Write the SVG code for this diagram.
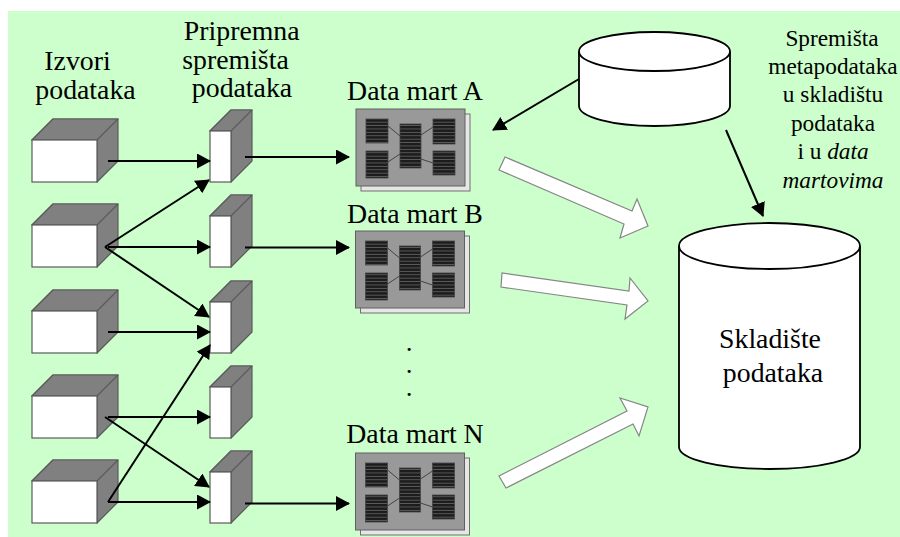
<svg xmlns="http://www.w3.org/2000/svg" width="900" height="537" viewBox="0 0 900 537">
<style>
text{font-family:"Liberation Serif","Times New Roman",serif;fill:#000;text-anchor:middle}
.t{font-size:27.800px}
.s{font-size:23.300px}
.d{font-size:19px;font-weight:bold}
.face{fill:#fff;stroke:#5a5a5a;stroke-width:1.2}
.dark{fill:#808080;stroke:#5a5a5a;stroke-width:1.2;stroke-linejoin:round}
.conn{fill:none;stroke:#000;stroke-width:2}
.big{fill:#fff;stroke:#858585;stroke-width:1.2}
.cyl{fill:#fff;stroke:#000;stroke-width:1.800}
.blk{fill:url(#st);stroke:#444;stroke-width:.8}
.lnk{stroke:#444;stroke-width:1;fill:none}
</style>
<defs>
<pattern id="st" width="4" height="3.4" patternUnits="userSpaceOnUse">
<rect width="4" height="3.4" fill="#5e5e5e"/>
<rect width="4" height="2.5" fill="#1c1c1c"/>
</pattern>
<marker id="ah" viewBox="0 0 14 15" markerUnits="userSpaceOnUse" markerWidth="14" markerHeight="15" refX="13" refY="7.500" orient="auto">
<path d="M0 0L14 7.500L0 15Z" fill="#000"/>
</marker>
<g id="src">
<path class="dark" d="M0 21L21 0H86V42L65 63V21Z"/>
<path class="dark" d="M0 21H65L86 0H21Z"/>
<rect class="face" x="0" y="21" width="65" height="42"/>
</g>
<g id="prep">
<path class="dark" d="M0 21L21 0H42V51L21 72V21Z"/>
<path class="dark" d="M0 21H21L42 0H21Z"/>
<rect class="face" x="0" y="21" width="21" height="51"/>
</g>
<g id="mart">
<rect x="5" y="5" width="109" height="77" fill="#e6e6e6" stroke="#707070"/>
<rect x="0" y="0" width="109" height="77" fill="#999" stroke="#606060"/>
<path class="lnk" d="M32 17L44 27M32 53L44 45M65 26L77 18M65 50L77 54"/>
<rect class="blk" x="10" y="10" width="22" height="24"/>
<rect class="blk" x="10" y="42" width="22" height="27"/>
<rect class="blk" x="44" y="15" width="21" height="44"/>
<rect class="blk" x="77" y="10" width="22" height="25"/>
<rect class="blk" x="77" y="42" width="22" height="24"/>
</g>
</defs>
<rect x="8" y="11" width="892" height="526" fill="#ccffcc"/>

<g id="label-izvori">
<text class="t" x="77.500" y="70">Izvori</text>
<text class="t" x="85.500" y="99">podataka</text>
</g>
<g id="label-pripremna">
<text class="t" x="241.700" y="40">Pripremna</text>
<text class="t" x="235.500" y="69">spremišta</text>
<text class="t" x="242" y="97">podataka</text>
</g>

<g id="source-1"><use href="#src" x="32" y="119"/></g>
<g id="source-2"><use href="#src" x="32" y="204"/></g>
<g id="source-3"><use href="#src" x="32" y="290"/></g>
<g id="source-4"><use href="#src" x="32" y="375"/></g>
<g id="source-5"><use href="#src" x="32" y="460"/></g>

<g id="prep-1"><use href="#prep" x="210" y="110"/></g>
<g id="prep-2"><use href="#prep" x="210" y="195"/></g>
<g id="prep-3"><use href="#prep" x="210" y="281"/></g>
<g id="prep-4"><use href="#prep" x="210" y="366"/></g>
<g id="prep-5"><use href="#prep" x="210" y="451"/></g>

<g id="mart-a"><text class="t" x="415" y="100">Data mart A</text><use href="#mart" x="356" y="109"/></g>
<g id="mart-b"><text class="t" x="415" y="223">Data mart B</text><use href="#mart" x="355.500" y="231"/></g>
<g id="mart-n"><text class="t" x="415" y="443">Data mart N</text><use href="#mart" x="355.500" y="453"/></g>
<g id="dots">
<text class="d" x="409" y="350.500">.</text>
<text class="d" x="409" y="373">.</text>
<text class="d" x="409" y="395.500">.</text>
</g>

<g id="metadata-store">
<path class="cyl" d="M579 51.500V106A75.500 20 0 0 0 730 106V51.500"/>
<ellipse class="cyl" cx="654.500" cy="51.500" rx="75.500" ry="19.500"/>
</g>
<g id="label-metadata">
<text class="s" x="832" y="46">Spremišta</text>
<text class="s" x="833" y="74">metapodataka</text>
<text class="s" x="833" y="102">u skladištu</text>
<text class="s" x="833" y="131">podataka</text>
<text class="s" x="833" y="159">i u <tspan font-style="italic">data</tspan></text>
<text class="s" x="833" y="188" font-style="italic">martovima</text>
</g>
<g id="warehouse">
<path class="cyl" d="M679 246V447A90.500 22 0 0 0 860 447V246"/>
<ellipse class="cyl" cx="769.500" cy="246" rx="90.500" ry="23"/>
<text class="t" x="770" y="348">Skladište</text>
<text class="t" x="773" y="382">podataka</text>
</g>

<g id="connectors">
<path class="conn" marker-end="url(#ah)" d="M108 161H210"/>
<path class="conn" marker-end="url(#ah)" d="M105 247L209 180"/>
<path class="conn" marker-end="url(#ah)" d="M108 247H210"/>
<path class="conn" marker-end="url(#ah)" d="M105 247L209 317"/>
<path class="conn" marker-end="url(#ah)" d="M108 332H210"/>
<path class="conn" marker-end="url(#ah)" d="M108 417H210"/>
<path class="conn" marker-end="url(#ah)" d="M105 417L209 487"/>
<path class="conn" marker-end="url(#ah)" d="M108 502H210"/>
<path class="conn" marker-end="url(#ah)" d="M108 502L210 345"/>
<path class="conn" marker-end="url(#ah)" d="M245 157H349"/>
<path class="conn" marker-end="url(#ah)" d="M245 247.500H349"/>
<path class="conn" marker-end="url(#ah)" d="M245 503.500H349"/>
<path class="conn" marker-end="url(#ah)" d="M579 79L493 130"/>
<path class="conn" marker-end="url(#ah)" d="M726 130L763 216"/>
<path class="big" d="M505 157L499 170L624 224L620 238L648 226L637 199L632 211Z"/>
<path class="big" d="M502 273L501 287L627 305L625 319L648 301L630 278L629 291Z"/>
<path class="big" d="M499 476L506 488L633 424L639 436L648 407L620 398L627 411Z"/>
</g>
</svg>
